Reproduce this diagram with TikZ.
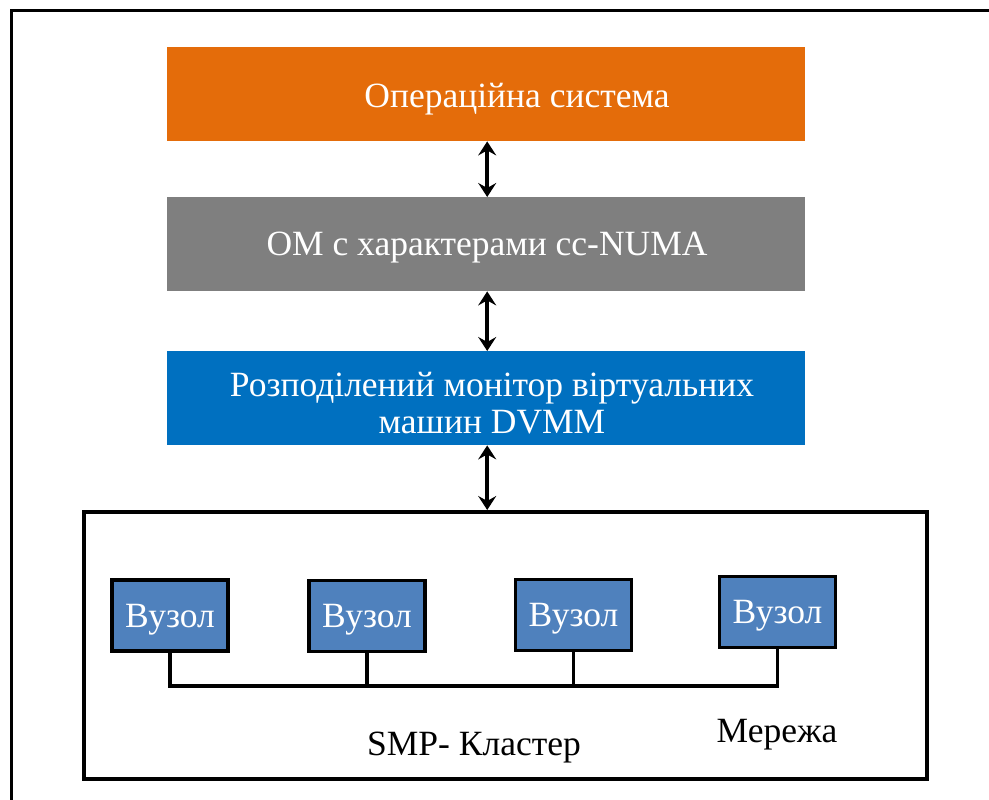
\documentclass[tikz,border=0pt]{standalone}
\usepackage{fontspec}
\setmainfont{Liberation Serif}
\usetikzlibrary{arrows.meta}

\definecolor{osorange}{HTML}{E46C0A}
\definecolor{omgray}{HTML}{7F7F7F}
\definecolor{vmblue}{HTML}{0070C0}
\definecolor{nodeblue}{HTML}{4F81BD}

\tikzset{
  layerbox/.style={draw=none, minimum width=638pt, minimum height=94pt, inner sep=0pt, anchor=north west},
  layertext/.style={text=white, font=\fontsize{35.5}{40}\selectfont, align=center, inner sep=0pt},
  vuzol/.style={draw=black, line width=3.5pt, fill=nodeblue, text=white,
    minimum width=116pt, minimum height=71pt, inner sep=0pt,
    text height=23.5pt, text depth=0pt,
    font=\fontsize{35.5}{40}\selectfont},
  dblarrow/.style={line width=3.6pt, {Stealth[length=14pt,width=18pt,inset=5pt]}-{Stealth[length=14pt,width=18pt,inset=5pt]}},
  wire/.style={line width=3.2pt, line join=miter},
  frame/.style={line width=3.6pt, line join=miter},
  plaintext/.style={font=\fontsize{35.5}{40}\selectfont, inner sep=0pt}
}

\begin{document}
\begin{tikzpicture}[x=1pt,y=-1pt]
\useasboundingbox (0,0) rectangle (989,800);

% outer frame, running past the right and bottom edges of the page
\draw[frame] (11.5,820) |- (1010,10.5);

% software layers
\node[layerbox, fill=osorange] (os) at (167,47) {};
\node[layertext] (ostext) at (517,99) {Операційна система};

\node[layerbox, fill=omgray] (om) at (167,197) {};
\node[layertext] (omtext) at (487,248) {ОМ с характерами cc-NUMA};

\node[layerbox, fill=vmblue] (vm) at (167,351) {};
\node[layertext] (vmtext) at (492,403) {Розподілений монітор віртуальних\\[-3pt]машин DVMM};

% SMP cluster
\node[draw=black, line width=3.6pt, minimum width=843pt, minimum height=267pt, inner sep=0pt, anchor=north west] (cluster) at (82,510) {};

\node[vuzol] (n1) at (170,615.5) {Вузол};
\node[vuzol] (n2) at (367,616) {Вузол};
\node[vuzol] (n3) at (573.5,615) {Вузол};
\node[vuzol] (n4) at (777.5,612) {Вузол};

\node[plaintext] (smp) at (474,748) {SMP- Кластер};
\node[plaintext] (net) at (777,735) {Мережа};

% arrows between the layers
\draw[dblarrow] ([xshift=1pt]os.south) -- ([xshift=1pt]om.north);
\draw[dblarrow] ([xshift=1pt]om.south) -- ([xshift=1pt]vm.north);
\draw[dblarrow] ([xshift=1pt]vm.south) -- ([xshift=1pt]cluster.north -| vm.south);

% network bus
\coordinate (bus) at (0,686);
\draw[wire] (n1.south) -- (n1.south |- bus) -- (n4.south |- bus) -- (n4.south);
\draw[wire] (n2.south) -- (n2.south |- bus);
\draw[wire] (n3.south) -- (n3.south |- bus);
\end{tikzpicture}
\end{document}
